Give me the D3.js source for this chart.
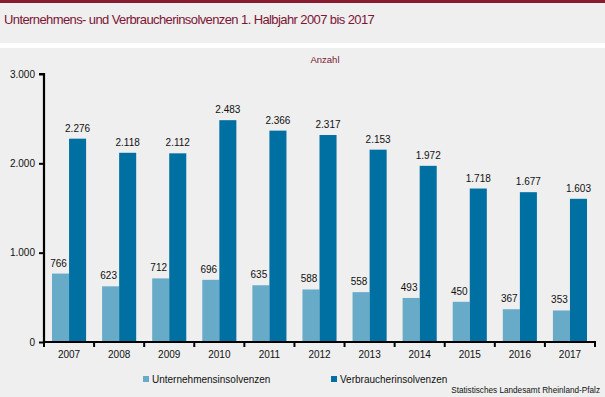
<!DOCTYPE html>
<html>
<head>
<meta charset="utf-8">
<script src="https://cdn.jsdelivr.net/npm/d3@7"></script>
<style>
  body { margin: 0; background: #eeefee; }
  svg { display: block; font-family: "Liberation Sans", Arial, sans-serif; }
</style>
</head>
<body>
<svg id="chart" width="605" height="397"></svg>
<script>
// Insolvenzen 1. Halbjahr, Rheinland-Pfalz
const years = ['2007', '2008', '2009', '2010', '2011', '2012', '2013', '2014', '2015', '2016', '2017'];
const unternehmen = [766, 623, 712, 696, 635, 588, 558, 493, 450, 367, 353];
const verbraucher = [2276, 2118, 2112, 2483, 2366, 2317, 2153, 1972, 1718, 1677, 1603];
const seriesNames = ['Unternehmensinsolvenzen', 'Verbraucherinsolvenzen'];
const yTicks = [0, 1000, 2000, 3000];

const colors = ['#67abc9', '#0070a2'];
const fmt = d3.formatLocale({decimal: ',', thousands: '.', grouping: [3], currency: ['', '€']}).format(',d');

const svg = d3.select('#chart');
const W = 605, H = 397;

// header
svg.append('rect').attr('x', 0).attr('y', 0).attr('width', W).attr('height', H).attr('fill', '#eeefee');
svg.append('rect').attr('x', 0).attr('y', 0).attr('width', W).attr('height', 3).attr('fill', '#8a1c32');
svg.append('rect').attr('x', 0).attr('y', 43).attr('width', W).attr('height', 5).attr('fill', '#ffffff');
svg.append('text')
    .attr('x', 4).attr('y', 24)
    .attr('font-size', 13).attr('letter-spacing', -0.6).attr('fill', '#7d1535')
    .text('Unternehmens- und Verbraucherinsolvenzen 1. Halbjahr 2007 bis 2017');
svg.append('text')
    .attr('x', 325).attr('y', 63).attr('text-anchor', 'middle')
    .attr('font-size', 9.5).attr('fill', '#7d1535')
    .text('Anzahl');

const x0 = d3.scaleBand().domain(years).range([44, 595]);
const x1 = d3.scaleBand().domain([0, 1]).range([8, x0.bandwidth() - 8]);
const y = d3.scaleLinear().domain([0, 3000]).range([342, 74]);

const data = years.map((yr, i) => ({year: yr, values: [unternehmen[i], verbraucher[i]]}));

const groups = svg.append('g').selectAll('g')
    .data(data).join('g')
    .attr('transform', d => `translate(${x0(d.year)},0)`);

groups.selectAll('rect')
    .data(d => d.values.map((v, k) => ({k, v})))
    .join('rect')
    .attr('x', d => x1(d.k))
    .attr('y', d => y(d.v))
    .attr('width', x1.bandwidth())
    .attr('height', d => y(0) - y(d.v))
    .attr('fill', d => colors[d.k]);

groups.selectAll('text')
    .data(d => d.values.map((v, k) => ({k, v})))
    .join('text')
    .attr('x', d => x1(d.k) + x1.bandwidth() / 2 - (d.k === 0 ? 2 : 0))
    .attr('y', d => y(d.v) - 7)
    .attr('text-anchor', 'middle')
    .attr('font-size', 10).attr('fill', '#111')
    .text(d => fmt(d.v));

// axes
const yAxis = svg.append('g')
    .attr('transform', 'translate(44,0)')
    .call(d3.axisLeft(y).tickValues(yTicks).tickFormat(fmt).tickSize(5).tickPadding(4));
const xAxis = svg.append('g')
    .attr('transform', `translate(0,${y(0)})`)
    .call(d3.axisBottom(x0).tickSize(0).tickPadding(9));

[yAxis, xAxis].forEach(a => {
    a.select('.domain').attr('stroke', '#000').attr('stroke-width', 2.2);
    a.selectAll('.tick line').attr('stroke', '#000').attr('stroke-width', 2);
    a.selectAll('text').attr('font-size', 10).attr('fill', '#111').attr('font-family', '"Liberation Sans", Arial, sans-serif');
});
yAxis.select('.domain').attr('d', `M-5,${y(3000)}H0V${y(0) + 1}`);
xAxis.select('.domain').attr('d', 'M43,0H596');

// band tick marks below axis
svg.append('g').selectAll('line')
    .data(d3.range(years.length + 1))
    .join('line')
    .attr('x1', i => i < years.length ? x0(years[i]) : x0.range()[1])
    .attr('x2', i => i < years.length ? x0(years[i]) : x0.range()[1])
    .attr('y1', y(0)).attr('y2', y(0) + 5)
    .attr('stroke', '#000').attr('stroke-width', 2);

// legend
const legendX = [143, 331];
const legend = svg.append('g').selectAll('g')
    .data(seriesNames).join('g')
    .attr('transform', (d, i) => `translate(${legendX[i]},376)`);
legend.append('rect').attr('width', 6).attr('height', 6).attr('fill', (d, i) => colors[i]);
legend.append('text')
    .attr('x', 9).attr('y', 7)
    .attr('font-size', 10).attr('fill', '#111')
    .text(d => d);

svg.append('text')
    .attr('x', 600).attr('y', 393).attr('text-anchor', 'end')
    .attr('font-size', 8.2).attr('fill', '#111')
    .text('Statistisches Landesamt Rheinland-Pfalz');
</script>
</body>
</html>
